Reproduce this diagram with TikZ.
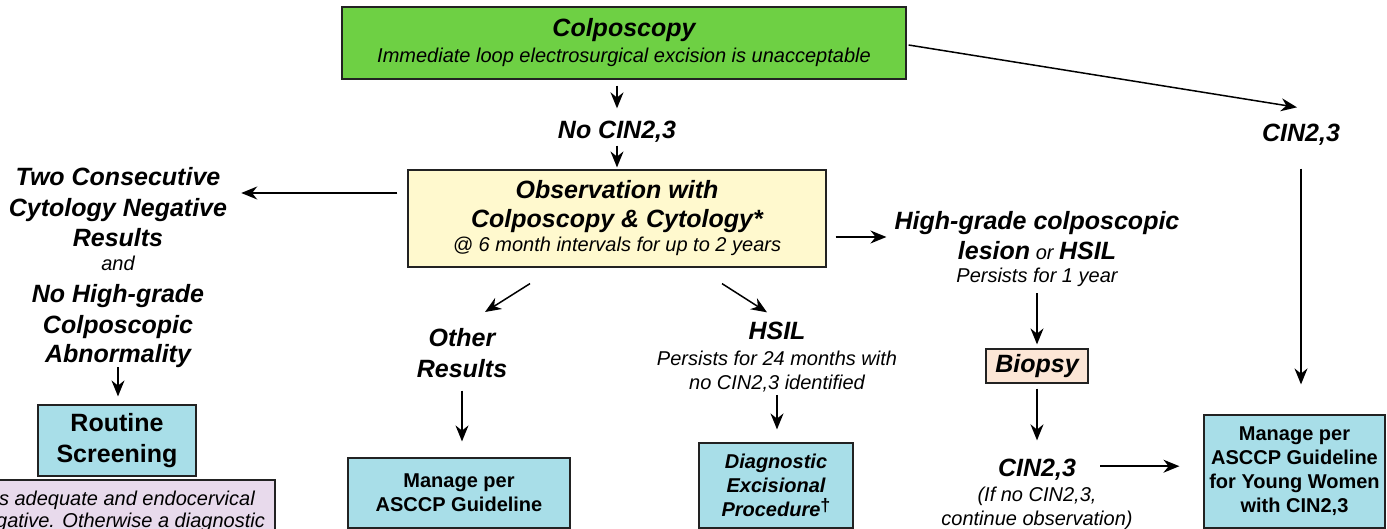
\documentclass[tikz,border=0pt]{standalone}
\usepackage{fontspec}
\setmainfont{Liberation Sans}
\usetikzlibrary{arrows.meta}
\definecolor{cgreen}{HTML}{6ED044}
\definecolor{cyellow}{HTML}{FFF9CE}
\definecolor{cblue}{HTML}{A8DEE8}
\definecolor{cpeach}{HTML}{FCE6D6}
\definecolor{cpink}{HTML}{E8DAEC}
\definecolor{cborder}{HTML}{222222}
\newcommand{\fBI}{\fontsize{25}{30}\selectfont\bfseries\itshape}
\newcommand{\fBB}{\fontsize{25}{30}\selectfont\bfseries\upshape}
\newcommand{\fSI}{\fontsize{20}{24}\selectfont\mdseries\itshape}
\newcommand{\fSB}{\fontsize{20}{24}\selectfont\bfseries\upshape}
\newcommand{\fSBI}{\fontsize{20}{24}\selectfont\bfseries\itshape}
\begin{document}
\begin{tikzpicture}[x=1pt,y=-1pt,
  box/.style={draw=cborder, line width=1.2pt, inner sep=0pt, align=center},
  lbl/.style={inner sep=0pt, align=center},
  arr/.style={-{Stealth[length=16pt,width=13pt]}, line width=1.5pt}]
\useasboundingbox (0,0) rectangle (1387,529);
\clip (0,0) rectangle (1387,529);

% boxes
\node[box, fill=cgreen, minimum width=564pt, minimum height=72pt, font=\fSI] (colpo) at (624,43)
  {{\fBI Colposcopy}\\[2pt]{\fSI Immediate loop electrosurgical excision is unacceptable}};
\node[box, fill=cyellow, minimum width=418pt, minimum height=97pt, font=\fSI] (obs) at (617,218.5)
  {{\fBI Observation with}\\[5pt]{\fBI Colposcopy \& Cytology*}\\{\fSI @ 6 month intervals for up to 2 years}};
\node[box, fill=cblue, minimum width=158pt, minimum height=71pt, font=\fBB] (routine) at (117,440.5)
  {Routine\\[1pt]Screening};
\node[box, fill=cpink, minimum width=575pt, minimum height=120pt] (note) at (-12.5,540) {};
\node[box, fill=cblue, minimum width=222pt, minimum height=70pt, font=\fSB] (man1) at (459,493)
  {Manage per\\ASCCP Guideline};
\node[box, fill=cblue, minimum width=154pt, minimum height=85pt, font=\fSBI] (diag) at (776,485.5)
  {Diagnostic\\Excisional\\Procedure\raisebox{0.5ex}{\fontsize{18}{18}\selectfont\bfseries\upshape †}};
\node[box, fill=cpeach, minimum width=102pt, minimum height=34pt, font=\fBI] (biopsy) at (1037,366) {Biopsy};
\node[box, fill=cblue, minimum width=181pt, minimum height=113pt, font=\fSB] (young) at (1294.5,471.5)
  {Manage per\\ASCCP Guideline\\for Young Women\\with CIN2,3};

% labels
\node[lbl, font=\fBI, anchor=base] (nocin) at (617,139) {No CIN2,3};
\node[lbl, font=\fBI, anchor=north] (twocons) at (118,166.75)
  {Two Consecutive\\[1pt]Cytology Negative\\Results\\[-6pt]{\fSI and}\\[2pt]No High-grade\\[1pt]Colposcopic\\[-1pt]Abnormality};
\node[lbl, font=\fBI, anchor=north] (other) at (462,327.75) {Other\\[1pt]Results};
\node[lbl, font=\fBI, anchor=base] (hsil) at (777,340) {HSIL};
\node[lbl, font=\fSI, anchor=north] (hsilnote) at (777,350.4) {Persists for 24 months with\\no CIN2,3 identified};
\node[lbl, font=\fSI, anchor=north] (hg) at (1037,210.75)
  {{\fBI High-grade colposcopic}\\[6pt]{\fBI lesion} or {\fBI HSIL}\\[-1pt]Persists for 1 year};
\node[lbl, font=\fBI, anchor=base] (cinb) at (1037,476) {CIN2,3};
\node[lbl, font=\fSI, anchor=north] (cinnote) at (1037,486.4) {(If no CIN2,3,\\continue observation)};
\node[lbl, font=\fBI, anchor=base] (cintop) at (1301,142) {CIN2,3};
\node[lbl, font=\fSI, anchor=base east] (note1) at (255,505) {is adequate and endocervical};
\node[lbl, font=\fSI, anchor=base east] (note2) at (265,527) {negative. Otherwise a diagnostic};

% connectors
\draw[arr, shorten <=6pt, shorten >=13pt] (colpo.south -| nocin.north) -- (nocin.north);
\draw[arr, shorten <=2.5pt, shorten >=2pt] (nocin.south) -- (nocin.south |- obs.north);
\draw[arr, shorten <=10pt, shorten >=14pt] ([yshift=25.5pt]obs.west) -- ([yshift=25.5pt]obs.west -| twocons.east);
\draw[arr, shorten <=0pt, shorten >=8pt] (twocons.south) -- (twocons.south |- routine.north);
\draw[arr] ([shift={(-87pt,-16pt)}]obs.south) -- ([shift={(23pt,15.75pt)}]other.north);
\draw[arr] ([shift={(105pt,-16pt)}]obs.south) -- ([shift={(-10pt,10pt)}]hsil.north);
\draw[arr, shorten <=13pt, shorten >=16pt] (other.south) -- (other.south |- man1.north);
\draw[arr, shorten <=3pt, shorten >=13pt] (hsilnote.south) -- (hsilnote.south |- diag.north);
\draw[arr, shorten <=9pt, shorten >=8pt] ([yshift=-18.5pt]obs.east) -- ([yshift=-18.5pt]obs.east -| hg.west);
\draw[arr, shorten <=7pt, shorten >=4pt] (hg.south) -- (hg.south |- biopsy.north);
\draw[arr, shorten <=5pt, shorten >=18pt] (biopsy.south) -- (biopsy.south |- cinb.north);
\draw[arr, shorten <=24pt, shorten >=24pt] ([yshift=3pt]cinb.east) -- ([yshift=3pt]cinb.east -| young.west);
\draw[arr] ([shift={(2pt,-2pt)}]colpo.east) -- ([shift={(-4pt,17pt)}]cintop.north);
\draw[arr, shorten <=22.5pt, shorten >=30pt] (cintop.south) -- (cintop.south |- young.north);
\end{tikzpicture}
\end{document}
